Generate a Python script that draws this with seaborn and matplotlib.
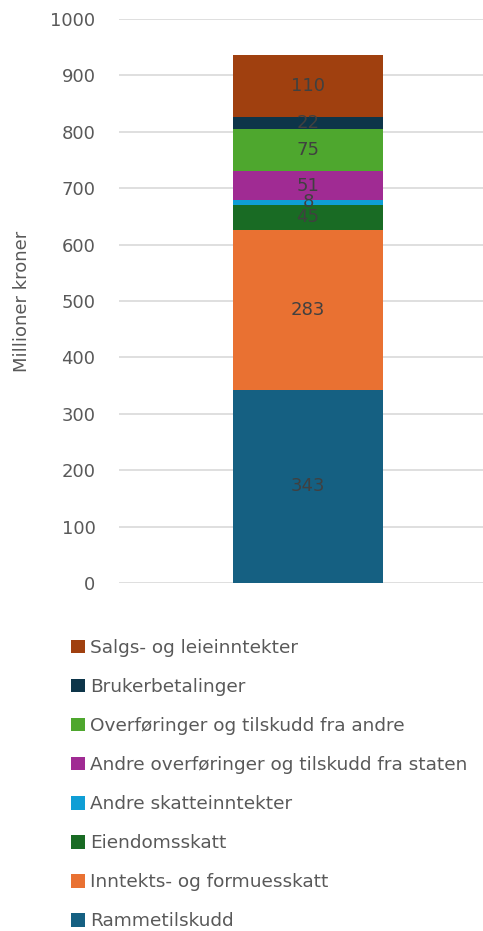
import pandas as pd
import seaborn as sns
import matplotlib.pyplot as plt
from matplotlib.patches import Patch

# Stack order from the bottom up
categories = [
    'Rammetilskudd',
    'Inntekts- og formuesskatt',
    'Eiendomsskatt',
    'Andre skatteinntekter',
    'Andre overføringer og tilskudd fra staten',
    'Overføringer og tilskudd fra andre',
    'Brukerbetalinger',
    'Salgs- og leieinntekter',
]
values = [343, 283, 45, 8, 51, 75, 22, 110]
colors = ['#156082', '#E97132', '#196B24', '#0F9ED5',
          '#A02B93', '#4EA72E', '#0D3549', '#A0400F']
yticks = [0, 100, 200, 300, 400, 500, 600, 700, 800, 900, 1000]

sns.set_theme(style='white')
plt.rcParams['font.family'] = ['DejaVu Sans']

df = pd.DataFrame({'kategori': categories, 'verdi': values, 'farge': colors})
df['topp'] = df['verdi'].cumsum()
df['midt'] = df['topp'] - df['verdi'] / 2
df['gruppe'] = ''

fig = plt.figure(figsize=(4.83, 9.31), dpi=100)
ax = fig.add_axes([119 / 483, 1 - 583 / 931, 378 / 483, 564 / 931])

# draw cumulative totals from the top down so each layer covers the one above
for _, row in df.iloc[::-1].iterrows():
    sns.barplot(x=[row['gruppe']], y=[row['topp']], color=row['farge'],
                width=0.397, saturation=1, linewidth=0, ax=ax, zorder=2)

for _, row in df.iterrows():
    ax.text(0, row['midt'], f"{row['verdi']}", ha='center', va='center',
            fontsize=13, color='#404040', zorder=3)

ax.set_ylim(0, 1000)
ax.set_yticks(yticks)
ax.set_xlim(-0.5, 0.5)
ax.set_xticks([])
ax.set_xlabel('')
ax.set_ylabel('Millioner kroner', fontsize=13, color='#595959', labelpad=14)
ax.tick_params(axis='y', length=0, pad=17, labelsize=13, labelcolor='#595959')
ax.grid(axis='y', color='#D9D9D9', linewidth=1.2, zorder=0)
ax.set_axisbelow(True)
sns.despine(ax=ax, left=True, bottom=True)

handles = [Patch(facecolor=c, edgecolor='none') for c in colors[::-1]]
fig.legend(handles, categories[::-1], loc='upper left',
           bbox_to_anchor=(71 / 483, 1 - 639 / 931), frameon=False,
           fontsize=13.3, handlelength=0.75, handleheight=0.75,
           handletextpad=0.3, labelspacing=1.14, borderpad=0,
           borderaxespad=0, labelcolor='#595959')

fig.savefig('out.png', dpi=100)
